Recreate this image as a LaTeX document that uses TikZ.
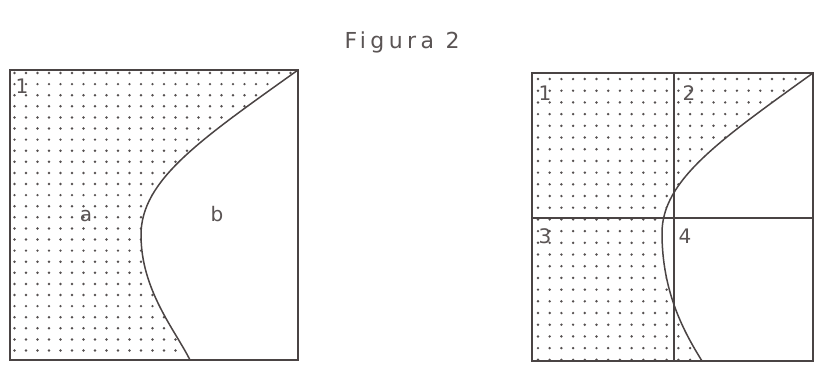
\documentclass[tikz,border=0pt]{standalone}
\usepackage{fontspec}
\setmainfont{DejaVu Sans}
\definecolor{ink}{HTML}{4A4444}
\definecolor{txt}{HTML}{5A5454}
\definecolor{dotc}{HTML}{555050}
\tikzset{
  frame/.style={draw=ink, line width=1.7pt},
  curve/.style={draw=ink, line width=1.5pt},
  lbl/.style={text=txt, font=\fontsize{20}{20}\selectfont, inner sep=0pt},
  ttl/.style={text=txt, font=\fontsize{22}{22}\selectfont\addfontfeature{LetterSpace=20}, inner sep=0pt}
}
\begin{document}
\begin{tikzpicture}[x=1pt,y=-1pt]
\useasboundingbox (0,0) rectangle (831,365);
\fill[white] (0,0) rectangle (831,365);
% title
\node[ttl] (title) at (402,42) {Figura 2};
% ---------- left diagram ----------
\def\lcurve{(298,70) .. controls (200,140) and (141,180) .. (141,235) .. controls (141,290) and (175,330) .. (190,360)}
\begin{scope}
\clip \lcurve -- (10,360) -- (10,70) -- cycle;
\foreach \i in {0,...,25} \foreach \j in {0,...,25}
  \fill[dotc] (14.5+\i*11.5, 73+\j*11.1) circle[radius=1.35pt];
\end{scope}
\draw[curve] \lcurve;
\draw[frame] (10,70) rectangle (298,360);
\node[lbl] (l1) at (22,86) {1};
\node[lbl] (la) at (86,216) {a};
\node[lbl] (lb) at (217,214) {b};
% ---------- right diagram ----------
\def\rcurve{(813,73) .. controls (720,140) and (662,180) .. (662,233) .. controls (662,292) and (684,332) .. (702,361)}
\begin{scope}
\clip \rcurve -- (532,361) -- (532,73) -- cycle;
\foreach \i in {0,...,25} \foreach \j in {0,...,25}
  \fill[dotc] (538+\i*11.7, 79+\j*11.7) circle[radius=1.35pt];
\end{scope}
\draw[curve] \rcurve;
\draw[frame] (532,73) rectangle (813,361);
\draw[frame] (674,73) -- (674,361);
\draw[frame] (532,218) -- (813,218);
\node[lbl] (r1) at (545,93) {1};
\node[lbl] (r2) at (689,93) {2};
\node[lbl] (r3) at (545,236) {3};
\node[lbl] (r4) at (685,236) {4};
\end{tikzpicture}
\end{document}
